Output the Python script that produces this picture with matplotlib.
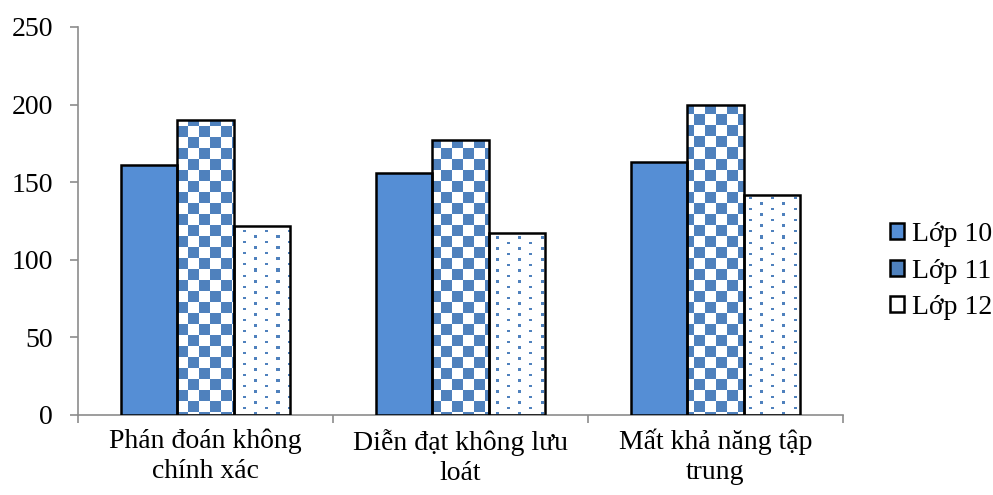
import numpy as np
import matplotlib
matplotlib.use("Agg")
import matplotlib.pyplot as plt
from matplotlib.patches import Patch

# ----------------------------
# Datos
# ----------------------------
categorias = ["Phán đoán không\nchính xác", "Diễn đạt không lưu\nloát", "Mất khả năng tập\ntrung"]
series = ["Lớp 10", "Lớp 11", "Lớp 12"]
lop10 = [161, 156, 163]
lop11 = [190, 177, 200]
lop12 = [122, 117, 142]

plt.rcParams["font.family"] = ["Liberation Serif", "DejaVu Serif"]

azul = "#558ED5"
azul2 = "#4F81BD"

W, H = 993, 495
fig = plt.figure(figsize=(W / 100, H / 100), dpi=100)
x0, x1, y0, y1 = 78, 843, 27, 415
ax = fig.add_axes([x0 / W, 1 - y1 / H, (x1 - x0) / W, (y1 - y0) / H])

# patrones en píxeles del área de ejes
pw, ph = x1 - x0, y1 - y0
yy, xx = np.mgrid[0:ph, 0:pw]
cuadros = ((xx // 11 + yy // 11) % 2 == 0)
fila = (2 * yy) // 11
desp = (fila % 2) * 11
puntos = (((2 * yy) % 11) < 5) & (((xx + desp) % 22) < 3)

def img_patron(mask, color):
    rgb = np.array(matplotlib.colors.to_rgb(color))
    img = np.ones((ph, pw, 3))
    img[mask] = rgb
    return img

img11 = img_patron(cuadros, azul2)
img12 = img_patron(puntos, azul2)

x = np.arange(len(categorias))
ancho = 0.222
ymax = 250

b10 = ax.bar(x - ancho, lop10, ancho, color=azul, edgecolor="black", linewidth=1.8, zorder=3)
b11 = ax.bar(x, lop11, ancho, facecolor="none", edgecolor="black", linewidth=1.8, zorder=3)
b12 = ax.bar(x + ancho, lop12, ancho, facecolor="none", edgecolor="black", linewidth=1.8, zorder=3)

ax.set_xlim(-0.5, len(categorias) - 0.5)
ax.set_ylim(0, ymax)

for barras, img in [(b11, img11), (b12, img12)]:
    for r in barras:
        im = ax.imshow(img, extent=(-0.5, len(categorias) - 0.5, 0, ymax),
                       origin="upper", aspect="auto", interpolation="nearest", zorder=2)
        im.set_clip_path(r)

ax.set_aspect("auto")
ax.set_xticks(x)
ax.set_xticklabels(categorias, fontsize=20, linespacing=1.25)
ax.set_xticks(np.arange(len(categorias) + 1) - 0.5, minor=True)
ax.tick_params(axis="x", which="major", length=0, pad=10)
ax.tick_params(axis="x", which="minor", length=6, color="#8c8c8c", width=1.2)
ax.set_yticks(range(0, 251, 50))
ax.tick_params(axis="y", labelsize=20, length=6, color="#8c8c8c", width=1.2, pad=12)

for s in ["top", "right"]:
    ax.spines[s].set_visible(False)
for s in ["left", "bottom"]:
    ax.spines[s].set_color("#8c8c8c")
    ax.spines[s].set_linewidth(1.2)

handles = [Patch(facecolor=azul, edgecolor="black", linewidth=1.8),
           Patch(facecolor=azul2, edgecolor="black", linewidth=1.8),
           Patch(facecolor="white", edgecolor="black", linewidth=1.8)]
ax.legend(handles, series, loc="center left", bbox_to_anchor=(890 / W, 1 - 271 / H),
          bbox_transform=fig.transFigure, frameon=False, fontsize=20,
          handlelength=0.5, handleheight=0.5, handletextpad=0.3, labelspacing=0.42,
          borderpad=0, borderaxespad=0)

fig.savefig("out.png", dpi=100)
